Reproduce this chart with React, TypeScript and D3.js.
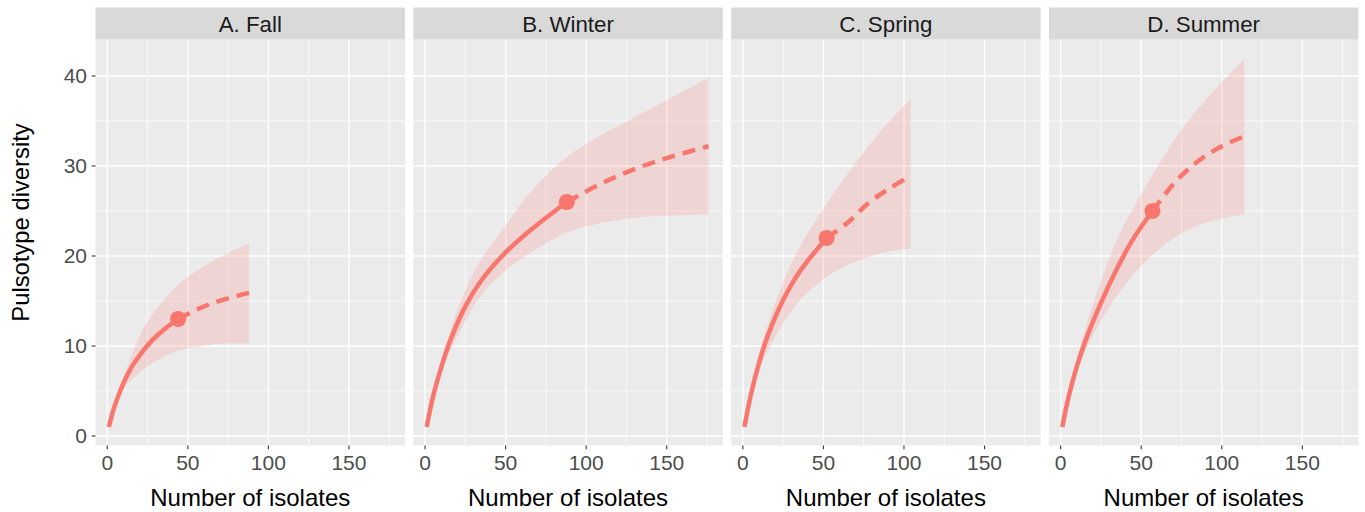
import * as d3 from 'd3';
import React, { useEffect, useRef } from 'react';

const WIDTH = 1365;
const HEIGHT = 512;
const LINE_COLOR = '#F8766D';
const FONT = "'Liberation Sans', Arial, sans-serif";

const PANEL_LEFT = 95.5;
const PANEL_WIDTH = 309.5;
const PANEL_GAP = 8.3;
const STRIP_TOP = 7.5;
const PANEL_TOP = 39.5;
const PANEL_BOTTOM = 445.5;

const seasonTitles = ['A. Fall', 'B. Winter', 'C. Spring', 'D. Summer'];

// number of isolates (m) and estimated pulsotype diversity with its 95% band
const fallM = [1, 4, 8, 12, 16, 22, 28, 36, 44, 55, 66, 77, 88];
const fallQD = [1, 3.0, 5.0, 6.6, 7.9, 9.4, 10.65, 11.95, 13.0, 14.0, 14.8, 15.4, 15.9];
const fallLow = [1, 2.9, 4.6, 5.7, 6.4, 7.3, 8.1, 8.9, 9.5, 9.9, 10.2, 10.3, 10.3];
const fallHigh = [1, 3.1, 5.4, 7.5, 9.4, 11.8, 13.5, 15.3, 16.8, 18.3, 19.5, 20.5, 21.4];

const winterM = [1, 5, 10, 15, 25, 35, 50, 65, 88, 110, 132, 154, 176];
const winterQD = [1, 4.4, 7.6, 10.3, 14.4, 17.3, 20.4, 22.8, 26.0, 28.1, 29.8, 31.1, 32.2];
const winterLow = [1, 4.2, 6.9, 9.2, 12.8, 15.7, 18.4, 20.3, 22.6, 23.7, 24.3, 24.5, 24.6];
const winterHigh = [1, 4.6, 8.3, 11.4, 16.2, 19.7, 23.4, 27.0, 31.0, 33.5, 35.6, 37.7, 39.8];

const springM = [1, 5, 10, 15, 25, 35, 52, 65, 78, 91, 104];
const springQD = [1, 4.6, 8.1, 10.9, 15.1, 18.2, 22.0, 23.7, 25.9, 27.5, 28.9];
const springLow = [1, 4.3, 7.2, 9.3, 12.5, 15.0, 17.7, 19.0, 19.9, 20.5, 20.8];
const springHigh = [1, 4.9, 8.9, 12.1, 17.1, 20.9, 25.8, 29.1, 32.2, 35.0, 37.4];

const summerM = [1, 5, 10, 15, 25, 35, 45, 57, 71, 85, 100, 114];
const summerQD = [1, 4.4, 7.7, 10.4, 14.8, 18.6, 21.9, 25.0, 28.2, 30.5, 32.2, 33.3];
const summerLow = [1, 4.1, 7.0, 9.3, 12.8, 15.6, 17.9, 20.1, 22.1, 23.4, 24.2, 24.6];
const summerHigh = [1, 4.7, 8.4, 11.7, 17.2, 21.8, 25.3, 29.0, 33.0, 36.3, 39.3, 41.9];

const observedM = [44, 88, 52, 57];
const observedQD = [13, 26, 22, 25];

const xTicks = [0, 50, 100, 150];
const xMinor = [25, 75, 125, 175];
const yTicks = [0, 10, 20, 30, 40];
const yMinor = [5, 15, 25, 35];

interface IPoint {
  m: number;
  qD: number;
  lo: number;
  hi: number;
}

const zip = (m: number[], qD: number[], lo: number[], hi: number[]): IPoint[] =>
  m.map((v, i) => ({ m: v, qD: qD[i], lo: lo[i], hi: hi[i] }));

const seasonData = [
  zip(fallM, fallQD, fallLow, fallHigh),
  zip(winterM, winterQD, winterLow, winterHigh),
  zip(springM, springQD, springLow, springHigh),
  zip(summerM, summerQD, summerLow, summerHigh),
];

const App: React.FC = () => {
  const ref = useRef<SVGSVGElement>(null);

  useEffect(() => {
    const svg = d3.select(ref.current);
    svg.selectAll('*').remove();

    svg.append('rect').attr('width', WIDTH).attr('height', HEIGHT).attr('fill', '#ffffff');

    const x = d3.scaleLinear().domain([-7.3, 184.8]).range([0, PANEL_WIDTH]);
    const y = d3.scaleLinear().domain([-1.06, 44.06]).range([PANEL_BOTTOM, PANEL_TOP]);

    const area = d3
      .area<IPoint>()
      .x(d => x(d.m))
      .y0(d => y(d.lo))
      .y1(d => y(d.hi))
      .curve(d3.curveCatmullRom.alpha(0.5));
    const line = d3
      .line<IPoint>()
      .x(d => x(d.m))
      .y(d => y(d.qD))
      .curve(d3.curveCatmullRom.alpha(0.5));

    seasonData.forEach((data, i) => {
      const g = svg.append('g').attr('transform', `translate(${PANEL_LEFT + i * (PANEL_WIDTH + PANEL_GAP)},0)`);

      // panel background + grid
      g.append('rect')
        .attr('x', 0)
        .attr('y', PANEL_TOP)
        .attr('width', PANEL_WIDTH)
        .attr('height', PANEL_BOTTOM - PANEL_TOP)
        .attr('fill', '#EBEBEB');
      xMinor.forEach(t =>
        g.append('line')
          .attr('x1', x(t)).attr('x2', x(t))
          .attr('y1', PANEL_TOP).attr('y2', PANEL_BOTTOM)
          .attr('stroke', '#ffffff').attr('stroke-width', 0.7),
      );
      yMinor.forEach(t =>
        g.append('line')
          .attr('x1', 0).attr('x2', PANEL_WIDTH)
          .attr('y1', y(t)).attr('y2', y(t))
          .attr('stroke', '#ffffff').attr('stroke-width', 0.7),
      );
      xTicks.forEach(t =>
        g.append('line')
          .attr('x1', x(t)).attr('x2', x(t))
          .attr('y1', PANEL_TOP).attr('y2', PANEL_BOTTOM)
          .attr('stroke', '#ffffff').attr('stroke-width', 1.4),
      );
      yTicks.forEach(t =>
        g.append('line')
          .attr('x1', 0).attr('x2', PANEL_WIDTH)
          .attr('y1', y(t)).attr('y2', y(t))
          .attr('stroke', '#ffffff').attr('stroke-width', 1.4),
      );

      // confidence band
      g.append('path').attr('d', area(data)).attr('fill', LINE_COLOR).attr('fill-opacity', 0.2);

      // interpolated (solid) and extrapolated (dashed) parts
      const obs = observedM[i];
      g.append('path')
        .attr('d', line(data.filter(d => d.m <= obs)))
        .attr('fill', 'none')
        .attr('stroke', LINE_COLOR)
        .attr('stroke-width', 4.5);
      g.append('path')
        .attr('d', line(data.filter(d => d.m >= obs)))
        .attr('fill', 'none')
        .attr('stroke', LINE_COLOR)
        .attr('stroke-width', 4.5)
        .attr('stroke-dasharray', '13 8');

      g.append('circle')
        .attr('cx', x(obs))
        .attr('cy', y(observedQD[i]))
        .attr('r', 8)
        .attr('fill', LINE_COLOR);

      // strip
      g.append('rect')
        .attr('x', 0)
        .attr('y', STRIP_TOP)
        .attr('width', PANEL_WIDTH)
        .attr('height', PANEL_TOP - STRIP_TOP)
        .attr('fill', '#D9D9D9');
      g.append('text')
        .attr('x', PANEL_WIDTH / 2)
        .attr('y', 31.5)
        .attr('text-anchor', 'middle')
        .style('font-family', FONT)
        .style('font-size', '22.3px')
        .attr('fill', '#1A1A1A')
        .text(seasonTitles[i]);

      // x axis
      xTicks.forEach(t => {
        g.append('line')
          .attr('x1', x(t)).attr('x2', x(t))
          .attr('y1', PANEL_BOTTOM).attr('y2', PANEL_BOTTOM + 3.7)
          .attr('stroke', '#333333').attr('stroke-width', 1.1);
        g.append('text')
          .attr('x', x(t))
          .attr('y', 469.5)
          .attr('text-anchor', 'middle')
          .style('font-family', FONT)
          .style('font-size', '21px')
          .attr('fill', '#4D4D4D')
          .text(t);
      });
      g.append('text')
        .attr('x', PANEL_WIDTH / 2)
        .attr('y', 505.5)
        .attr('text-anchor', 'middle')
        .style('font-family', FONT)
        .style('font-size', '24px')
        .attr('fill', '#000000')
        .text('Number of isolates');

      // y axis on the first panel only
      if (i === 0) {
        yTicks.forEach(t => {
          g.append('line')
            .attr('x1', -3.7).attr('x2', 0)
            .attr('y1', y(t)).attr('y2', y(t))
            .attr('stroke', '#333333').attr('stroke-width', 1.1);
          g.append('text')
            .attr('x', -8.5)
            .attr('y', y(t))
            .attr('dy', '0.35em')
            .attr('text-anchor', 'end')
            .style('font-family', FONT)
            .style('font-size', '21px')
            .attr('fill', '#4D4D4D')
            .text(t);
        });
      }
    });

    svg.append('text')
      .attr('transform', 'translate(28.5,222.5) rotate(-90)')
      .attr('text-anchor', 'middle')
      .style('font-family', FONT)
      .style('font-size', '23.8px')
      .attr('fill', '#000000')
      .text('Pulsotype diversity');
  }, []);

  return (
    <svg
      ref={ref}
      width={WIDTH}
      height={HEIGHT}
      viewBox={`0 0 ${WIDTH} ${HEIGHT}`}
      style={{ position: 'absolute', left: 0, top: 0 }}
    />
  );
};

export default App;
